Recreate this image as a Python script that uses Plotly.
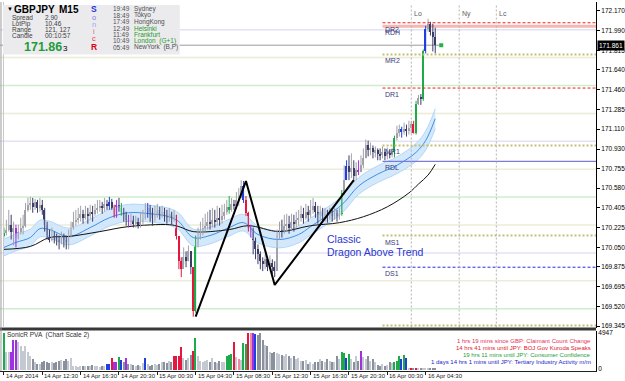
import plotly.graph_objects as go

# ---------------- data ----------------
first_open = 170.156
close = [170.182,170.209,170.253,170.191,170.227,170.138,170.191,170.227,170.244,170.386,
         170.431,170.448,170.413,170.457,170.404,170.431,170.386,170.253,170.165,170.120,
         170.156,170.138,170.120,170.094,170.138,170.120,170.094,170.156,170.227,170.280,
         170.298,170.315,170.351,170.315,170.351,170.333,170.369,170.351,170.386,170.404,
         170.422,170.404,170.440,170.422,170.457,170.404,170.333,170.431,170.404,170.369,
         170.342,170.298,170.280,170.298,170.262,170.280,170.244,170.280,170.315,170.351,
         170.404,170.369,170.315,170.351,170.386,170.351,170.369,170.333,170.315,170.351,
         170.315,170.342,170.156,169.925,169.854,169.961,169.925,170.014,169.872,169.482,
         170.067,170.138,170.191,170.227,170.244,170.280,170.262,170.298,170.280,170.315,
         170.298,170.333,170.369,170.413,170.386,170.440,170.422,170.475,170.493,170.599,
         170.475,170.360,170.227,170.191,170.120,170.032,169.987,169.925,169.899,169.943,
         169.872,169.908,169.872,169.837,170.165,170.209,170.191,170.244,170.262,170.227,
         170.280,170.262,170.298,170.315,170.351,170.315,170.369,170.342,170.386,170.422,
         170.369,170.342,170.369,170.333,170.351,170.315,170.351,170.333,170.360,170.333,
         170.351,170.537,170.652,170.776,170.723,170.759,170.688,170.741,170.723,170.785,
         170.847,170.963,170.918,170.936,170.901,170.918,170.883,170.874,170.901,170.865,
         170.892,170.874,170.901,171.033,171.078,171.113,171.087,171.113,171.096,171.122,
         171.158,171.078,171.335,171.388,171.379,171.805,172.009,172.053,171.982,171.938,
         171.861]
high = [170.227,170.298,170.386,170.342,170.280,170.253,170.253,170.315,170.342,170.448,
        170.493,170.502,170.493,170.484,170.475,170.493,170.475,170.404,170.280,170.209,
        170.227,170.191,170.173,170.156,170.191,170.173,170.156,170.209,170.280,170.369,
        170.386,170.404,170.422,170.386,170.422,170.404,170.431,170.422,170.440,170.475,
        170.475,170.457,170.493,170.475,170.502,170.484,170.431,170.475,170.493,170.448,
        170.404,170.369,170.342,170.351,170.333,170.333,170.315,170.369,170.386,170.448,
        170.448,170.431,170.404,170.422,170.440,170.413,170.422,170.404,170.386,170.404,
        170.369,170.386,170.342,170.147,169.961,170.049,170.014,170.067,169.961,169.854,
        170.156,170.227,170.280,170.315,170.351,170.369,170.386,170.404,170.386,170.422,
        170.404,170.431,170.440,170.475,170.510,170.493,170.475,170.546,170.581,170.652,
        170.644,170.510,170.369,170.253,170.227,170.138,170.076,170.014,169.961,169.987,
        169.961,169.978,169.943,169.925,170.209,170.280,170.298,170.342,170.351,170.333,
        170.351,170.342,170.369,170.386,170.422,170.404,170.440,170.422,170.475,170.493,
        170.457,170.422,170.422,170.404,170.404,170.386,170.404,170.386,170.404,170.386,
        170.404,170.564,170.785,170.830,170.874,170.892,170.830,170.812,170.830,170.874,
        170.936,171.016,171.007,170.989,170.963,170.954,170.936,170.936,170.954,170.936,
        170.945,170.918,170.936,171.051,171.140,171.149,171.131,171.166,171.149,171.184,
        171.184,171.184,171.362,171.415,171.424,171.823,172.035,172.097,172.071,172.053,
        172.018]
low = [170.138,170.156,170.191,170.120,170.067,170.049,170.120,170.165,170.165,170.227,
       170.369,170.386,170.360,170.386,170.360,170.369,170.342,170.191,170.120,170.094,
       170.102,170.085,170.067,170.032,170.076,170.049,170.032,170.032,170.138,170.209,
       170.244,170.262,170.280,170.262,170.298,170.262,170.298,170.280,170.333,170.351,
       170.369,170.351,170.369,170.386,170.386,170.386,170.315,170.315,170.369,170.333,
       170.280,170.244,170.227,170.244,170.227,170.227,170.218,170.227,170.244,170.298,
       170.315,170.280,170.244,170.280,170.315,170.298,170.315,170.280,170.262,170.280,
       170.253,170.280,170.120,169.854,169.783,169.899,169.872,169.925,169.810,169.429,
       169.464,170.049,170.120,170.156,170.191,170.209,170.209,170.227,170.227,170.244,
       170.244,170.262,170.298,170.342,170.351,170.369,170.386,170.404,170.422,170.493,
       170.448,170.333,170.191,170.138,169.987,169.943,169.899,169.854,169.837,169.854,
       169.837,169.854,169.810,169.783,169.872,170.120,170.138,170.173,170.191,170.173,
       170.209,170.191,170.227,170.244,170.280,170.262,170.298,170.280,170.315,170.351,
       170.315,170.262,170.298,170.280,170.280,170.271,170.298,170.280,170.298,170.280,
       170.298,170.333,170.519,170.652,170.652,170.670,170.635,170.652,170.697,170.723,
       170.759,170.847,170.865,170.874,170.847,170.856,170.830,170.830,170.847,170.830,
       170.838,170.847,170.856,170.856,171.007,171.042,171.033,171.060,171.042,171.060,
       171.069,171.069,171.060,171.326,171.326,171.362,171.787,171.982,171.947,171.805,
       171.787]
volume = [4900,2430,2340,2430,4050,4050,3690,3240,2565,3240,
          2340,1890,1440,1080,765,765,1080,1215,990,900,
          990,900,1080,1215,1350,1215,1440,1215,1530,540,
          540,315,540,450,540,450,540,630,450,540,
          315,540,540,765,765,1530,990,990,1665,1350,
          990,1575,765,765,630,540,630,540,900,1530,
          765,540,630,765,630,765,990,1080,900,1215,
          1000,1890,1890,1890,3015,1530,1350,1530,1980,2565,
          4230,1800,1215,1080,1215,1350,1080,1530,990,900,
          1215,1080,990,1800,1980,2115,3780,1665,1440,1350,
          3600,3465,4947,4947,4947,4815,4680,4947,4050,3330,
          3240,2340,2250,2340,2250,2115,1980,1800,2115,1890,
          1530,1800,1440,1530,1215,1215,1350,765,1080,765,
          990,990,1440,1215,990,1440,1215,990,1080,1800,
          1440,2430,2250,1530,2115,1440,990,1800,1215,2565,
          1665,1440,1800,1215,1440,990,630,540,765,540,
          630,990,900,1080,1215,1800,1440,1980,1530,180,
          90,90,90,90,90,90,90,90,90,90,
          90]
# PVA colour codes (g green, r red, b blue, p purple, k pink)
candle_pva = {0:'g',5:'p',44:'b',46:'r',47:'p',49:'g',52:'p',60:'b',72:'r',73:'r',74:'r',
              79:'r',80:'g',94:'g',100:'b',101:'r',102:'r',103:'p',141:'g',143:'b',148:'p',
              163:'g',166:'b',171:'r',172:'g',175:'g',176:'b'}
volume_pva = {0:'g',3:'p',4:'p',5:'p',43:'b',44:'b',45:'r',46:'p',47:'p',48:'g',49:'b',51:'p',
              59:'b',71:'r',72:'r',73:'r',74:'r',79:'r',80:'g',93:'g',94:'g',95:'g',96:'r',
              98:'k',100:'g',101:'g',102:'r',103:'k',104:'p',105:'b',141:'g',142:'g',143:'b',
              144:'g',149:'p',163:'g',164:'g',165:'g',166:'b',167:'g',168:'b',170:'r',172:'r'}

dragon_idx = [0,5,11,15,19,27,36,44,52,61,69,73,79,86,94,100,106,115,123,128,141,148,156,164,172,176,180]
dragon_mid = [170.049,170.094,170.138,170.218,170.209,170.147,170.227,170.315,170.360,170.351,170.324,
              170.280,170.138,170.156,170.227,170.271,170.165,170.120,170.165,170.236,170.431,170.599,
              170.706,170.785,170.901,171.007,171.202]
dragon_hi = [170.124,170.169,170.213,170.293,170.284,170.222,170.302,170.390,170.435,170.426,170.399,
             170.355,170.213,170.231,170.302,170.346,170.240,170.195,170.240,170.311,170.506,170.674,
             170.781,170.860,170.981,171.092,171.292]
dragon_lo = [169.974,170.019,170.063,170.143,170.134,170.072,170.152,170.240,170.285,170.276,170.249,
             170.205,170.063,170.081,170.152,170.196,170.090,170.045,170.090,170.161,170.356,170.524,
             170.631,170.710,170.821,170.922,171.112]
trend_idx = [0,11,19,27,40,52,69,73,79,94,102,115,128,140,150,160,169,173,177,180]
trend_val = [170.032,170.058,170.138,170.147,170.191,170.236,170.253,170.236,170.191,170.209,170.244,
             170.191,170.244,170.271,170.324,170.413,170.537,170.617,170.697,170.794]
zigzag_idx = [80,101,113,146]
zigzag_val = [169.429,170.644,169.713,170.652]

quarter_levels = [172.00,171.75,171.50,171.25,171.00,170.75,170.50,170.25,170.00,169.75,169.50]
pivot_names = ["DR2","MR2","DR1","MR1","RDL","MS1","DS1","MS2"]
pivot_values = [172.062,171.778,171.477,170.963,170.821,170.156,169.872,169.349]
pivot_start = 158
session_names = ["Lo","Ny","Lc"]
session_idx = [170,190,205.5]
bid = 171.861

price_ticks = [172.170,171.990,171.815,171.640,171.460,171.285,171.110,170.930,170.755,170.580,
               170.405,170.225,170.050,169.875,169.695,169.520,169.345]
time_tick_idx = [0,16,32,48,64,80,96,112,128,144,160,176]
time_tick_labels = ["14 Apr 2014","14 Apr 12:30","14 Apr 16:30","14 Apr 20:30","15 Apr 00:30",
                    "15 Apr 04:30","15 Apr 08:30","15 Apr 12:30","15 Apr 16:30","15 Apr 20:30",
                    "16 Apr 00:30","16 Apr 04:30"]
events = ["1 hrs 19 mins since GBP: Claimant Count Change",
          "14 hrs 41 mins until JPY: BOJ Gov Kuroda Speaks",
          "19 hrs 11 mins until JPY: Consumer Confidence",
          "1 days 14 hrs 1 mins until JPY: Tertiary Industry Activity m/m"]
event_colors = ["#e8305a","#e0202c","#1a9e3a","#1c1cc8"]
sessions_city = ["Sydney","Tokyo","HongKong","Helsinki","Frankfurt","London  (G+1)","NewYork  (B,P)"]
sessions_time = ["19:49","18:49","17:49","12:49","11:49","10:49","05:49"]
city_colors = ["#505050","#505050","#505050","#2a9a2a","#2a9a2a","#2a9a2a","#505050"]

# ---------------- styling ----------------
W, H = 625, 381
PLOT_W = 600
FONT = "Liberation Sans"
pva_colors = {'g':'#1faa4a','r':'#e5173e','b':'#1f3fe0','p':'#a030e0','k':'#f08aa0'}
BULL = '#a2a2aa'
BEAR = '#3c3c68'

def px(x):
    return x / PLOT_W
def py(y):
    return 1 - y / H

opens = [first_open] + close[:-1]
idx = list(range(len(close)))

fig = go.Figure()

# dragon band
fig.add_trace(go.Scatter(x=dragon_idx, y=dragon_lo, mode='lines', line=dict(color='#b2d6f6', width=1, shape='spline'),
                         hoverinfo='skip', showlegend=False))
fig.add_trace(go.Scatter(x=dragon_idx, y=dragon_hi, mode='lines', line=dict(color='#b2d6f6', width=1, shape='spline'),
                         fill='tonexty', fillcolor='rgba(204,228,251,0.85)', hoverinfo='skip', showlegend=False))
fig.add_trace(go.Scatter(x=dragon_idx, y=dragon_mid, mode='lines', line=dict(color='#3b8fe6', width=1, shape='spline'),
                         hoverinfo='skip', showlegend=False))
fig.add_trace(go.Scatter(x=trend_idx, y=trend_val, mode='lines', line=dict(color='#111111', width=1, shape='spline'),
                         hoverinfo='skip', showlegend=False))

# candles: group by colour
def candle_color(i):
    if i in candle_pva:
        return pva_colors[candle_pva[i]]
    return BULL if close[i] >= opens[i] else BEAR

groups = {}
for i in idx:
    groups.setdefault(candle_color(i), []).append(i)
for col, sel in groups.items():
    wx, wy = [], []
    for i in sel:
        wx += [i, i, None]
        wy += [low[i], high[i], None]
    fig.add_trace(go.Scatter(x=wx, y=wy, mode='lines', line=dict(color=col, width=1),
                             hoverinfo='skip', showlegend=False))
    fig.add_trace(go.Bar(x=sel, y=[max(abs(close[i] - opens[i]), 0.004) for i in sel],
                         base=[min(close[i], opens[i]) for i in sel], width=0.6,
                         marker=dict(color=col, line=dict(width=0)), hoverinfo='skip', showlegend=False))

# zigzag
fig.add_trace(go.Scatter(x=zigzag_idx, y=zigzag_val, mode='lines', line=dict(color='#000000', width=2),
                         hoverinfo='skip', showlegend=False))
# green dot
fig.add_trace(go.Scatter(x=[182.5], y=[bid], mode='markers', marker=dict(color='#22b24c', size=4, symbol='square'),
                         hoverinfo='skip', showlegend=False))

# volume
vcols = []
for i in idx:
    if i in volume_pva:
        vcols.append(pva_colors[volume_pva[i]])
    else:
        vcols.append('#c4c8d0' if close[i] >= opens[i] else '#8a909c')
fig.add_trace(go.Bar(x=idx, y=volume, marker=dict(color=vcols, line=dict(width=0)), width=0.6,
                     xaxis='x2', yaxis='y2', hoverinfo='skip', showlegend=False))

shapes = []
ann = []
# quarter levels
qcol = {0: '#e2e2f6', 50: '#cdeecd', 25: '#ececd8', 75: '#ececd8'}
for q in quarter_levels:
    frac = int(round((q - int(q)) * 100))
    shapes.append(dict(type='line', xref='x', yref='y', x0=-5, x1=260, y0=q, y1=q,
                       line=dict(color=qcol[frac], width=1.5), layer='below'))
# pink band near DR2
shapes.append(dict(type='line', xref='x', yref='y', x0=pivot_start, x1=260, y0=172.031, y1=172.031,
                   line=dict(color='#f6b8b0', width=3), layer='below'))
# bid line
shapes.append(dict(type='line', xref='x', yref='y', x0=-5, x1=182, y0=bid, y1=bid,
                   line=dict(color='#9a9a9a', width=1), layer='below'))
# pivots
for name, v in zip(pivot_names, pivot_values):
    if name in ('DR2', 'DR1'):
        ln = dict(color='#f02020', width=1, dash='3px,2px')
    elif name == 'DS1':
        ln = dict(color='#2828e8', width=1, dash='3px,2px')
    elif name == 'RDL':
        ln = dict(color='#7c7cd8', width=1.2)
    else:
        ln = dict(color='#c4c070', width=2, dash='2px,2px')
    shapes.append(dict(type='line', xref='x', yref='y', x0=pivot_start, x1=260, y0=v, y1=v, line=ln))
    if name != 'MS2':
        ann.append(dict(x=pivot_start + 0.3, y=v, xref='x', yref='y', text=name, showarrow=False,
                        xanchor='left', yanchor='top', yshift=-1,
                        font=dict(family=FONT, size=7, color='#3a3a78')))
ann.append(dict(x=pivot_start + 0.3, y=172.00, xref='x', yref='y', text='RDH', showarrow=False,
                xanchor='left', yanchor='top', yshift=3, font=dict(family=FONT, size=7, color='#3a3a78')))
# sessions
for nm, si in zip(session_names, session_idx):
    shapes.append(dict(type='line', xref='x', yref='paper', x0=si, x1=si, y0=py(329), y1=py(2),
                       line=dict(color='#b4b4b4', width=1, dash='2px,2px')))
    ann.append(dict(x=si, y=py(6), xref='x', yref='paper', text=nm, showarrow=False, xanchor='left',
                    xshift=1, font=dict(family=FONT, size=7, color='#606060')))
# borders
shapes.append(dict(type='line', xref='paper', yref='paper', x0=0, x1=1, y0=py(330.5), y1=py(330.5),
                   line=dict(color='#383838', width=3)))
shapes.append(dict(type='line', xref='paper', yref='paper', x0=px(1), x1=px(1), y0=py(373), y1=py(0),
                   line=dict(color='#9a9a9a', width=1)))
shapes.append(dict(type='line', xref='paper', yref='paper', x0=px(3.5), x1=px(3.5), y0=py(329), y1=py(0),
                   line=dict(color='#c8c8c8', width=1)))

# info panel
shapes.append(dict(type='rect', xref='paper', yref='paper', x0=px(3), x1=px(181), y0=py(53), y1=py(3),
                   fillcolor='#ebebee', line=dict(width=0)))
def t(x, y, s, size=6.5, color='#404040', anchor='left', bold=False, family=FONT):
    ann.append(dict(x=px(x), y=py(y), xref='paper', yref='paper', text=('<b>%s</b>' % s) if bold else s,
                    showarrow=False, xanchor=anchor, yanchor='middle',
                    font=dict(family=family, size=size, color=color)))
t(5, 7, '▼', size=6, color='#000000')
t(12, 7.5, 'GBPJPY', size=10, color='#000000', bold=True)
t(57, 7.5, 'M15', size=10, color='#000000', bold=True)
for k, (lab, val) in enumerate([('Spread', '2.90'), ('LotPip', '10.46'), ('Range', '121, 127'), ('Candle', '00:10:57')]):
    t(10, 16 + 6 * k, lab)
    t(43, 16 + 6 * k, val)
t(22, 45.5, '171.86', size=12.5, color='#1e9a3c', bold=True)
t(61, 46.5, '3', size=8, color='#000000')
for ch, yy, col, b, sz in [('S', 7, '#2233dd', True, 8.5), ('o', 15.5, '#7c7ce8', False, 7.5),
                           ('n', 22.5, '#a8a4ea', False, 7.5), ('i', 30, '#e0508a', False, 7),
                           ('c', 37, '#e23a4a', False, 7.5), ('R', 45.5, '#e00010', True, 8.5)]:
    t(95, yy, ch, size=sz, color=col, bold=b, anchor='center')
for k in range(7):
    yy = 6.8 + 6.5 * k
    t(112, yy, sessions_time[k], color='#505050')
    t(133, yy, sessions_city[k], color=city_colors[k])

# chart text
ann.append(dict(x=px(327), y=py(240), xref='paper', yref='paper', text='Classic', showarrow=False,
                xanchor='left', font=dict(family=FONT, size=10.5, color='#2b35d0')))
ann.append(dict(x=px(327), y=py(253), xref='paper', yref='paper', text='Dragon Above Trend', showarrow=False,
                xanchor='left', font=dict(family=FONT, size=10.5, color='#2b35d0')))

# indicator texts
t(5, 336.5, 'SonicR PVA  (Chart Scale 2)', color='#303030')
for k, (ev, col) in enumerate(zip(events, event_colors)):
    t(597, 343 + 6.8 * k, ev, size=6, color=col, anchor='right')

# bid label box
ann.append(dict(x=px(601), y=bid, xref='paper', yref='y', text='171.861', showarrow=False, xanchor='left',
                bgcolor='#000000', borderpad=1, font=dict(family=FONT, size=6.5, color='#ffffff')))

# time labels
for ti, tl in zip(time_tick_idx, time_tick_labels):
    ann.append(dict(x=ti, y=py(377.5), xref='x', yref='paper', text=tl, showarrow=False, xanchor='left',
                    yanchor='middle', xshift=0, font=dict(family=FONT, size=6, color='#202020')))

# axes ranges
px_per_bar = 2.412
x0_idx = -4 / px_per_bar
x1_idx = (PLOT_W - 4) / px_per_bar
p_top = 172.248
p_per_px = 0.008865
y_main = [p_top - 329 * p_per_px, p_top]
vmax = 4947
v_per_px = vmax / 37.0
y_vol = [-2 * v_per_px, vmax + 2 * v_per_px]

fig.update_layout(
    width=W, height=H, margin=dict(l=0, r=W - PLOT_W, t=0, b=0),
    paper_bgcolor='white', plot_bgcolor='white', barmode='overlay',
    xaxis=dict(range=[x0_idx, x1_idx], showgrid=False, zeroline=False, showticklabels=False,
               anchor='y', fixedrange=True),
    xaxis2=dict(range=[x0_idx, x1_idx], matches='x', anchor='y2', showgrid=False, zeroline=False,
                showticklabels=False, showline=True, linecolor='#202020', linewidth=1,
                ticks='outside', ticklen=3, tickcolor='#202020', tickvals=time_tick_idx),
    yaxis=dict(domain=[1 - 329 / H, 1], range=y_main, side='right', showgrid=False, zeroline=False,
               tickvals=price_ticks, ticktext=['%.3f' % v for v in price_ticks],
               tickfont=dict(family=FONT, size=6.5, color='#000000'), ticks='outside', ticklen=3,
               tickcolor='#000000', showline=True, linecolor='#000000', linewidth=1, anchor='x'),
    yaxis2=dict(domain=[1 - 373 / H, 1 - 332 / H], range=y_vol, side='right', showgrid=False, zeroline=False,
                tickvals=[vmax, 0], ticktext=['4947', '0'],
                tickfont=dict(family=FONT, size=6.5, color='#000000'), ticks='', showline=True,
                linecolor='#000000', linewidth=1, anchor='x2'),
    shapes=shapes, annotations=ann, bargap=0, showlegend=False,
)

fig.write_html("out.html")
